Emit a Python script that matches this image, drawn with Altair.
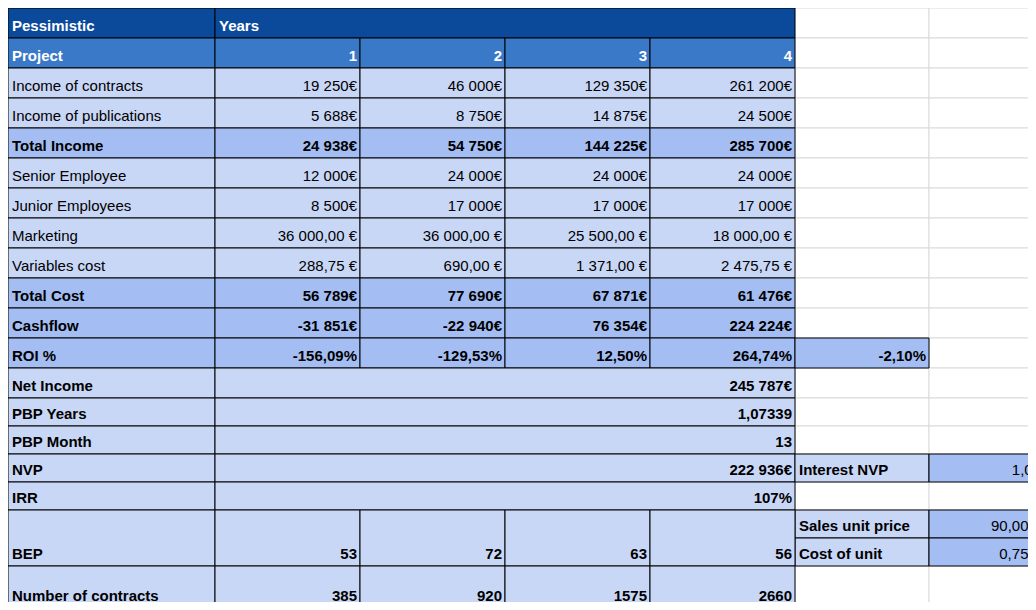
import pandas as pd
import altair as alt

# grid lines of the sheet (pixel edges)
col_edges = [0, 207, 352, 497, 642, 787, 921, 1036]
row_edges = [0, 30, 60, 90, 120, 150, 180, 210, 240, 270, 300, 330, 360, 390, 418, 446, 474, 502, 530, 558, 600]

DARK = "#0b4a9b"
MID = "#3a78c8"
LIGHT = "#c9d7f6"
BOLDROW = "#a4bef3"

row_labels = ["Income of contracts", "Income of publications", "Total Income", "Senior Employee",
              "Junior Employees", "Marketing", "Variables cost", "Total Cost", "Cashflow", "ROI %"]
row_values = [
    ["19 250€", "46 000€", "129 350€", "261 200€"],
    ["5 688€", "8 750€", "14 875€", "24 500€"],
    ["24 938€", "54 750€", "144 225€", "285 700€"],
    ["12 000€", "24 000€", "24 000€", "24 000€"],
    ["8 500€", "17 000€", "17 000€", "17 000€"],
    ["36 000,00 €", "36 000,00 €", "25 500,00 €", "18 000,00 €"],
    ["288,75 €", "690,00 €", "1 371,00 €", "2 475,75 €"],
    ["56 789€", "77 690€", "67 871€", "61 476€"],
    ["-31 851€", "-22 940€", "76 354€", "224 224€"],
    ["-156,09%", "-129,53%", "12,50%", "264,74%"],
]
bold_rows = ["Total Income", "Total Cost", "Cashflow", "ROI %"]
summary_labels = ["Net Income", "PBP Years", "PBP Month", "NVP", "IRR"]
summary_values = ["245 787€", "1,07339", "13", "222 936€", "107%"]
years = ["1", "2", "3", "4"]
bep_values = ["53", "72", "63", "56"]
contracts = ["385", "920", "1575", "2660"]
roi_total = "-2,10%"
side_labels = ["Interest NVP", "Sales unit price", "Cost of unit"]
side_values = ["1,05", "90,00 €", "0,75 €"]

cells, texts = [], []


def cell(c0, c1, r0, r1, fill, text="", align="left", bold=False, color="black", stroke="black"):
    x, x2 = col_edges[c0], col_edges[c1]
    y, y2 = row_edges[r0], row_edges[r1]
    cells.append(dict(x=x, x2=x2, y=y, y2=y2, fill=fill, stroke=stroke))
    if text:
        tx = x + 4 if align == "left" else x2 - 3
        kind = align + ("_b" if bold else "_n") + ("_w" if color == "white" else "_k")
        texts.append(dict(label=text, tx=float(tx), ty=float(y2 - 7), kind=kind))


# empty sheet grid
for r in range(len(row_edges) - 1):
    for c in range(len(col_edges) - 1):
        cell(c, c + 1, r, r + 1, "white", stroke="#dadada")

cell(0, 1, 0, 1, DARK, "Pessimistic", bold=True, color="white")
cell(1, 5, 0, 1, DARK, "Years", bold=True, color="white")
cell(0, 1, 1, 2, MID, "Project", bold=True, color="white")
for i, y in enumerate(years):
    cell(i + 1, i + 2, 1, 2, MID, y, "right", True, "white")

for k, (lab, vals) in enumerate(zip(row_labels, row_values)):
    r = k + 2
    b = lab in bold_rows
    fill = BOLDROW if b else LIGHT
    cell(0, 1, r, r + 1, fill, lab, bold=b)
    for i, v in enumerate(vals):
        cell(i + 1, i + 2, r, r + 1, fill, v, "right", b)
cell(5, 6, 11, 12, BOLDROW, roi_total, "right", True)

for k, (lab, v) in enumerate(zip(summary_labels, summary_values)):
    r = k + 12
    cell(0, 1, r, r + 1, LIGHT, lab, bold=True)
    cell(1, 5, r, r + 1, LIGHT, v, "right", True)

cell(5, 6, 15, 16, LIGHT, side_labels[0], bold=True)
cell(6, 7, 15, 16, BOLDROW, side_values[0], "right")
cell(5, 6, 17, 18, LIGHT, side_labels[1], bold=True)
cell(6, 7, 17, 18, BOLDROW, side_values[1], "right")
cell(5, 6, 18, 19, LIGHT, side_labels[2], bold=True)
cell(6, 7, 18, 19, BOLDROW, side_values[2], "right")

cell(0, 1, 17, 19, LIGHT, "BEP", bold=True)
for i, v in enumerate(bep_values):
    cell(i + 1, i + 2, 17, 19, LIGHT, v, "right", True)
cell(0, 1, 19, 20, LIGHT, "Number of contracts", bold=True)
for i, v in enumerate(contracts):
    cell(i + 1, i + 2, 19, 20, LIGHT, v, "right", True)

cells_df = pd.DataFrame(cells)
texts_df = pd.DataFrame(texts)

W, H = 1020, 594
xs = alt.Scale(domain=[0, W], range=[0, W])
ys = alt.Scale(domain=[0, H], range=[0, H])

rects = alt.Chart(cells_df).mark_rect(strokeWidth=1).encode(
    x=alt.X("x:Q", scale=xs, axis=None), x2="x2",
    y=alt.Y("y:Q", scale=ys, axis=None), y2="y2",
    fill=alt.Fill("fill:N", scale=None),
    stroke=alt.Stroke("stroke:N", scale=None),
)

layers = [rects]
for kind in sorted(texts_df["kind"].unique()):
    align, weight, col = kind.split("_")
    layers.append(alt.Chart(texts_df).transform_filter(
        alt.datum.kind == kind
    ).mark_text(
        align=align, baseline="alphabetic", fontSize=15, font="Liberation Sans",
        fontWeight="bold" if weight == "b" else "normal",
        color="white" if col == "w" else "black",
    ).encode(
        x=alt.X("tx:Q", scale=xs, axis=None),
        y=alt.Y("ty:Q", scale=ys, axis=None),
        text=alt.Text("label:N"),
    ))

chart = alt.layer(*layers).properties(
    width=W, height=H, padding=0, autosize="none"
).configure_view(strokeWidth=0)

chart.save("out.html", embed_options={"renderer": "svg", "actions": False})
